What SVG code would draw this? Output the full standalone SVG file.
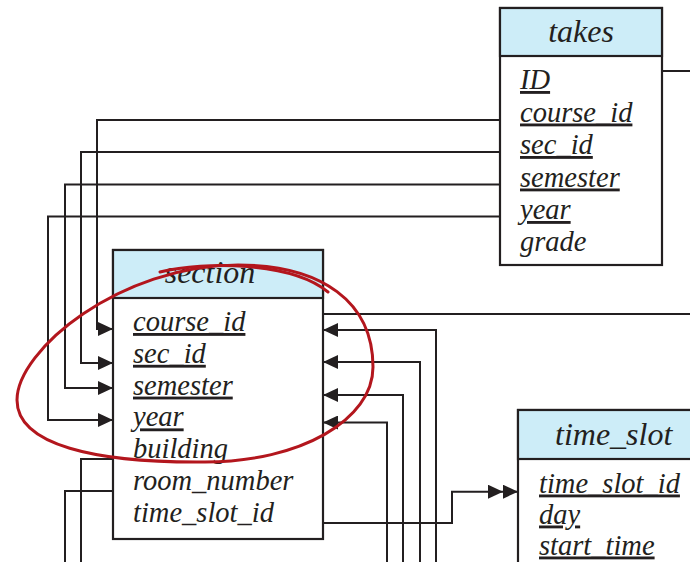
<svg xmlns="http://www.w3.org/2000/svg" width="690" height="562" viewBox="0 0 690 562">
  <style>
    .box { fill: #ffffff; stroke: #231f20; stroke-width: 2.2; }
    .head { fill: #cdedf8; stroke: #231f20; stroke-width: 2.2; }
    .title { font-family: "Liberation Serif", "Times New Roman", serif; font-style: italic; font-size: 32px; fill: #231f20; }
    .attr { font-family: "Liberation Serif", "Times New Roman", serif; font-style: italic; font-size: 28.5px; fill: #231f20; }
    .key { text-decoration: underline; }
    .wire { fill: none; stroke: #231f20; stroke-width: 2; }
    .mark { fill: #231f20; }
    .loop { fill: none; stroke: #b3161d; stroke-width: 3; stroke-linecap: round; }
  </style>
  <defs>
    <marker id="arrow" markerUnits="userSpaceOnUse" markerWidth="16" markerHeight="14" refX="15" refY="7" orient="auto">
      <path class="mark" d="M0,0 L15,7 L0,14 Z"/>
    </marker>
    <marker id="arrow2" markerUnits="userSpaceOnUse" markerWidth="31" markerHeight="14" refX="30" refY="7" orient="auto">
      <path class="mark" d="M0,0 L15,7 L0,14 Z M15,0 L30,7 L15,14 Z"/>
    </marker>
  </defs>

  <!-- connectors -->
  <g id="connectors">
    <path class="wire" d="M663,71 H690"/>
    <path class="wire" d="M500,120 H97 V329 H113" marker-end="url(#arrow)"/>
    <path class="wire" d="M500,152 H81 V363 H113" marker-end="url(#arrow)"/>
    <path class="wire" d="M500,184.5 H65 V388 H113" marker-end="url(#arrow)"/>
    <path class="wire" d="M500,216.5 H48 V420 H113" marker-end="url(#arrow)"/>
    <path class="wire" d="M323,314 H690"/>
    <path class="wire" d="M436,562 V330 H323" marker-end="url(#arrow)"/>
    <path class="wire" d="M420,562 V362 H323" marker-end="url(#arrow)"/>
    <path class="wire" d="M403,562 V395 H323" marker-end="url(#arrow)"/>
    <path class="wire" d="M387,562 V422.5 H323" marker-end="url(#arrow)"/>
    <path class="wire" d="M323,523 H452 V491.7 H518" marker-end="url(#arrow2)"/>
    <path class="wire" d="M113,459 H81 V562"/>
    <path class="wire" d="M113,491 H65 V562"/>
  </g>

  <!-- takes -->
  <g id="takes">
    <rect class="box" x="500" y="8" width="162" height="257"/>
    <rect class="head" x="500" y="8" width="162" height="48"/>
    <text class="title" x="581" y="42" text-anchor="middle">takes</text>
    <text class="attr key" x="520" y="89">ID</text>
    <text class="attr key" x="520" y="121.5">course_id</text>
    <text class="attr key" x="520" y="154">sec_id</text>
    <text class="attr key" x="520" y="186.5">semester</text>
    <text class="attr key" x="520" y="219">year</text>
    <text class="attr" x="520" y="251">grade</text>
  </g>

  <!-- section -->
  <g id="section">
    <rect class="box" x="113" y="250" width="210" height="289"/>
    <rect class="head" x="113" y="250" width="210" height="48"/>
    <text class="title" x="210" y="283" text-anchor="middle">section</text>
    <text class="attr key" x="133" y="331">course_id</text>
    <text class="attr key" x="133" y="362.8">sec_id</text>
    <text class="attr key" x="133" y="394.6">semester</text>
    <text class="attr key" x="133" y="426.4">year</text>
    <text class="attr" x="133" y="458.2">building</text>
    <text class="attr" x="133" y="490">room_number</text>
    <text class="attr" x="133" y="521.8">time_slot_id</text>
  </g>

  <!-- time_slot -->
  <g id="time_slot">
    <rect class="box" x="518" y="410" width="190" height="170"/>
    <rect class="head" x="518" y="410" width="190" height="49"/>
    <text class="title" x="555" y="445">time_slot</text>
    <text class="attr key" x="539" y="492.5">time_slot_id</text>
    <text class="attr key" x="539" y="523.5">day</text>
    <text class="attr key" x="539" y="554.5">start_time</text>
  </g>

  <!-- hand-drawn loop around the section key -->
  <g id="highlight">
    <path class="loop" d="M17,400 C17,350 120,265 238,265 C322,265 373,302 373,367 C373,420 300,462 205,462 C95,463 17,445 17,400 Z"/>
    <path class="loop" d="M160,272 C205,261 292,262 328,292"/>
  </g>
</svg>
